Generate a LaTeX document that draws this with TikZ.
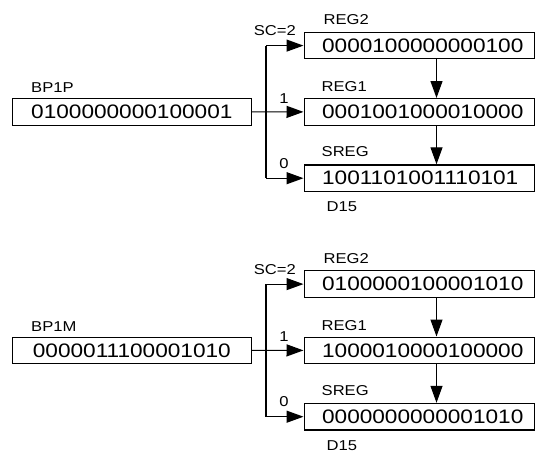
\documentclass[tikz,border=0pt]{standalone}
\usepackage{fontspec}
\setmainfont{Liberation Sans}[FakeStretch=1.16]
\usetikzlibrary{arrows.meta}

\tikzset{
  wire/.style={line width=1.2pt, draw=black},
  flow/.style={wire, -{Triangle[length=17pt, width=12pt]}},
  inbox/.style={draw, line width=1.2pt, rectangle, inner sep=0pt,
    minimum width=238.5pt, minimum height=26.5pt,
    font=\fontsize{19.5}{20}\selectfont},
  regbox/.style={draw, line width=1.2pt, rectangle, inner ysep=0pt,
    inner xsep=18pt, minimum height=26.6pt,
    font=\fontsize{19.5}{20}\selectfont},
  tag/.style={inner sep=0pt, font=\fontsize{14.3}{15}\selectfont}
}

% register word, set flush left in a box of fixed width
\newcommand\regword[1]{\makebox[194pt][l]{#1}}

% One shift stage: input word, the three registers, the selector and labels
\newcommand\shiftstage[6]{%
  \node[tag, anchor=base west] (#1inlbl) at (31,92.5) {#2};
  \node[inbox, anchor=north west] (#1in) at (12,98) {#3};
  \node[regbox, anchor=north west] (#1rtwo) at (303.5,31.7) {\regword{#4}};
  \node[regbox, anchor=north west] (#1rone) at (303.5,98) {\regword{#5}};
  \node[regbox, anchor=north west] (#1sreg) at (303.5,164.3) {\regword{#6}};
  \node[tag, anchor=base west] (#1ltwo) at (323.5,24.5) {REG2};
  \node[tag, anchor=base west] (#1lone) at (321.5,91.5) {REG1};
  \node[tag, anchor=base west] (#1lsreg) at (321.5,156.5) {SREG};
  \node[tag, anchor=base west] (#1ld) at (326.5,211.5) {D15};
  \node[tag, anchor=base east] (#1sc) at (296,36) {SC=2};
  \node[tag, anchor=base] (#1one) at (284,103) {1};
  \node[tag, anchor=base] (#1zero) at (284,168) {0};
  \coordinate (#1bus) at (266,111.3);
  \coordinate (#1col) at (436.5,0);
  % input to the selector and REG1
  \draw[flow] (#1in.east) -- (#1rone.west);
  % selector bus
  \draw[wire] (#1bus |- #1rtwo.west) -- (#1bus |- #1sreg.west);
  \draw[flow] (#1bus |- #1rtwo.west) -- (#1rtwo.west);
  \draw[flow] (#1bus |- #1sreg.west) -- (#1sreg.west);
  % register to register transfers
  \draw[flow] (#1col |- #1rtwo.south) -- (#1col |- #1rone.north);
  \draw[flow] (#1col |- #1rone.south) -- (#1col |- #1sreg.north);
}

\begin{document}
\begin{tikzpicture}[x=1pt, y=-1pt]
  \useasboundingbox (0,0) rectangle (535,452);
  \begin{scope}
    \shiftstage{p}{BP1P}{0100000000100001}{0000100000000100}{0001001000010000}{1001101001110101}
  \end{scope}
  \begin{scope}[shift={(0,238.5)}]
    \shiftstage{m}{BP1M}{0000011100001010}{0100000100001010}{1000010000100000}{0000000000001010}
  \end{scope}
\end{tikzpicture}
\end{document}
